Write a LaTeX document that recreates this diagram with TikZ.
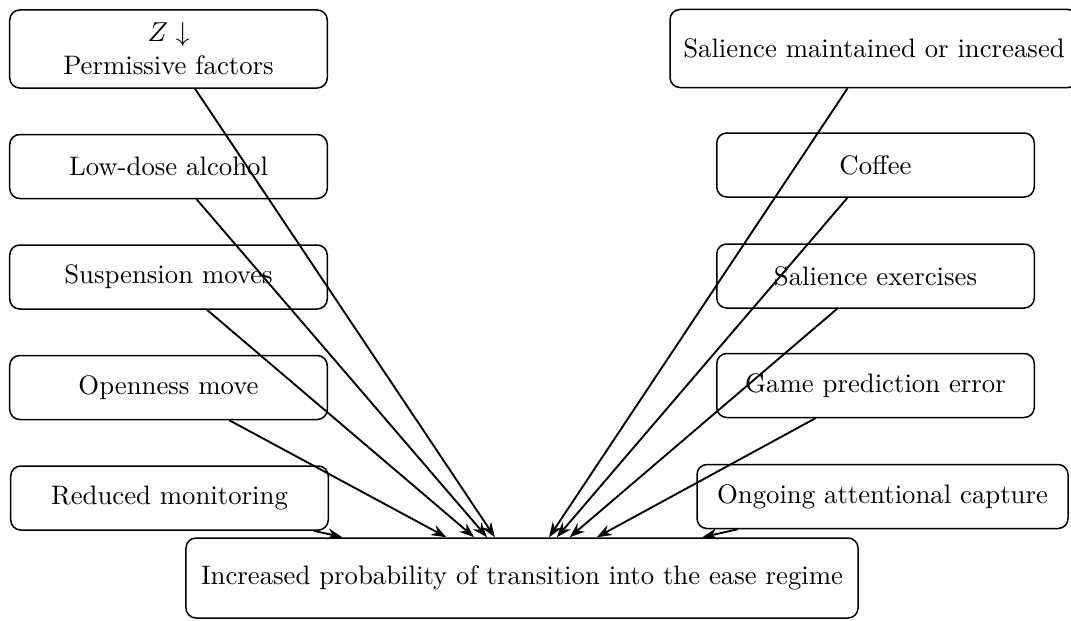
\documentclass[tikz,border=0pt]{standalone}
\usepackage{amsmath,amssymb}
\usepackage{tikz}
\usetikzlibrary{arrows.meta}

\begin{document}
\begin{tikzpicture}[x=0.4pt,y=-0.4pt,>={Stealth[length=6pt,width=4.4pt]},
  font=\fontsize{10.7}{13.2}\selectfont,
  factor/.style={draw,semithick,rounded corners=4pt,align=center,
    minimum width=127pt,minimum height=25.6pt,inner xsep=3pt},
  link/.style={->,line width=0.75pt}]
\useasboundingbox (0,0) rectangle (1071,620);
% left column
\node[factor,minimum height=31.2pt] (perm) at (168.5,49) {$Z\downarrow$\\Permissive factors};
\node[factor] (alc) at (168.5,166.5) {Low-dose alcohol};
\node[factor] (susp) at (168.5,277) {Suspension moves};
\node[factor] (open) at (168.5,387.5) {Openness move};
\node[factor] (redu) at (169.5,498) {Reduced monitoring};
% right column
\node[factor,minimum width=163.2pt,minimum height=31.2pt] (sal) at (874,48.5) {Salience maintained or increased};
\node[factor] (coffee) at (875.5,165) {Coffee};
\node[factor] (salex) at (875.5,276) {Salience exercises};
\node[factor] (game) at (875.5,385.5) {Game prediction error};
\node[factor,minimum width=148.4pt] (ongo) at (882.5,496.5) {Ongoing attentional capture};
% outcome
\node[factor,minimum width=268.8pt,minimum height=32pt] (ease) at (522,578) {Increased probability of transition into the ease regime};
\foreach \n in {perm,alc,susp,open,redu,sal,coffee,salex,game,ongo}
  \draw[link] (\n) -- (ease);
\end{tikzpicture}
\end{document}
